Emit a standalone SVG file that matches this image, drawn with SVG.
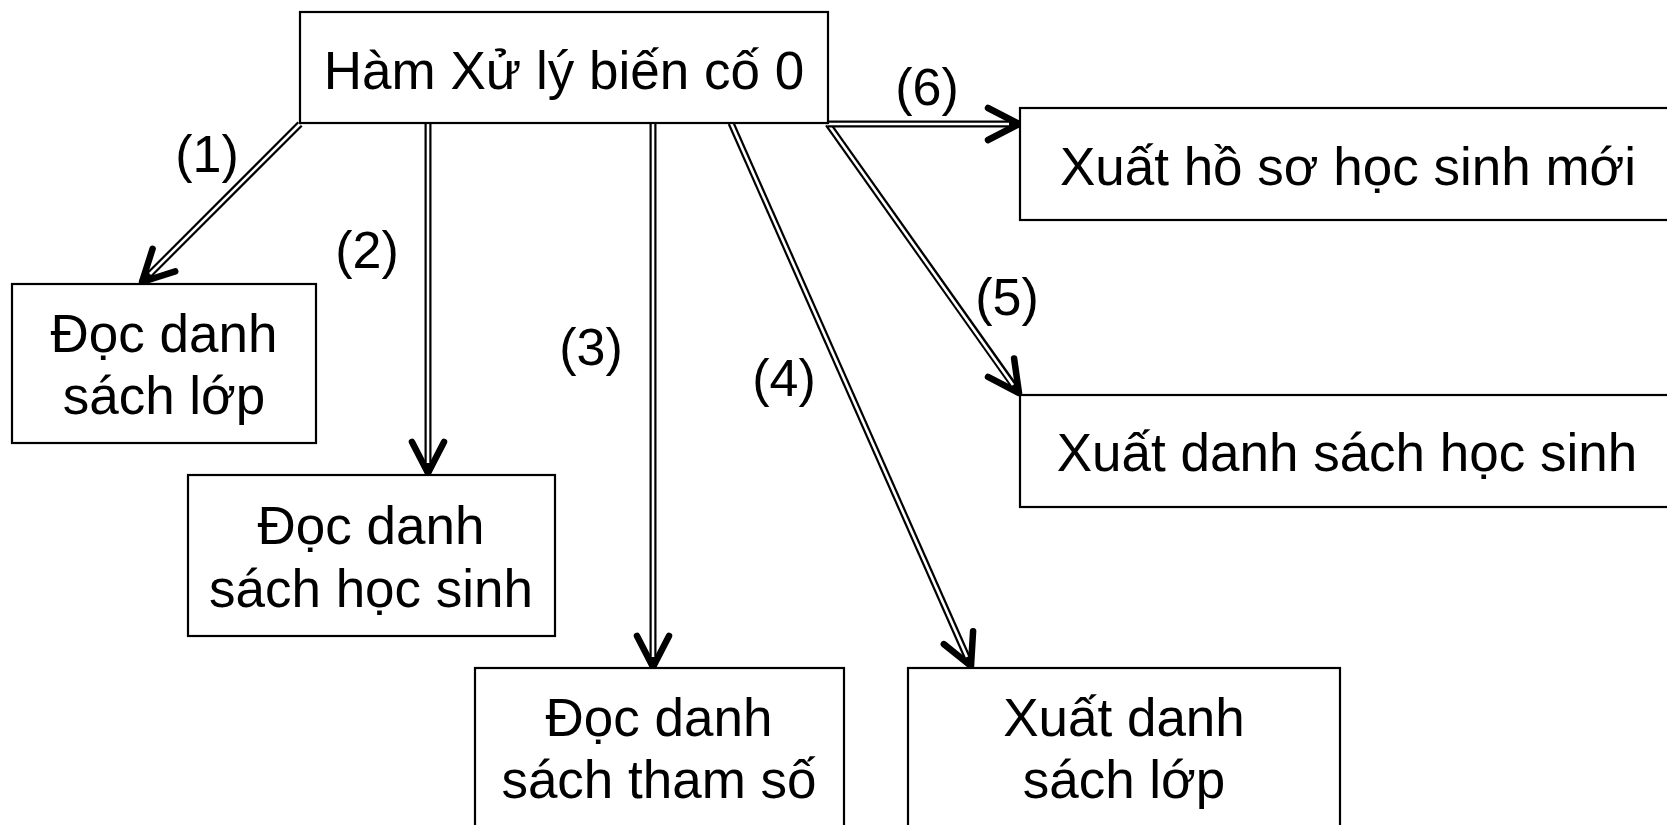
<svg xmlns="http://www.w3.org/2000/svg" width="1667" height="825" viewBox="0 0 1667 825">
  <style>
    .box { fill: #ffffff; stroke: #000000; stroke-width: 2.2; }
    .txt { font-family: "Liberation Sans", Arial, sans-serif; font-size: 53px; fill: #000000; text-anchor: middle; }
    .lbl { font-family: "Liberation Sans", Arial, sans-serif; font-size: 52px; fill: #000000; text-anchor: middle; }
    .outer { fill: none; stroke: #000000; stroke-width: 7; marker-end: url(#vhead); }
    .inner { fill: none; stroke: #ffffff; stroke-width: 2.6; }
  </style>
  <defs>
    <marker id="vhead" markerUnits="userSpaceOnUse" markerWidth="50" markerHeight="50" viewBox="-40 -25 50 50" refX="0" refY="0" orient="auto" overflow="visible">
      <path d="M-31,-16 L0,0 L-31,16" fill="none" stroke="#000000" stroke-width="6.5" stroke-linecap="round" stroke-linejoin="round"/>
    </marker>
  </defs>

  <rect width="1667" height="825" fill="#ffffff"/>

  <!-- connectors: double-line shafts with open V heads -->
  <g id="connectors">
    <!-- (1) -->
    <path class="outer" d="M300,124 L142,282"/>
    <path class="inner" d="M300,124 L150,274"/>
    <!-- (2) -->
    <path class="outer" d="M428,122 L428,473"/>
    <path class="inner" d="M428,122 L428,463"/>
    <!-- (3) -->
    <path class="outer" d="M653,122 L653,667"/>
    <path class="inner" d="M653,122 L653,657"/>
    <!-- (4) -->
    <path class="outer" d="M731,123 L971,666"/>
    <path class="inner" d="M731,123 L967,657"/>
    <!-- (5) -->
    <path class="outer" d="M828,124 L1019,393"/>
    <path class="inner" d="M828,124 L1013,385"/>
    <!-- (6) -->
    <path class="outer" d="M828,124 L1019,124"/>
    <path class="inner" d="M828,124 L1009,124"/>
  </g>

  <!-- connector labels -->
  <g id="labels">
    <text class="lbl" x="207" y="172">(1)</text>
    <text class="lbl" x="367" y="268">(2)</text>
    <text class="lbl" x="591" y="365">(3)</text>
    <text class="lbl" x="784" y="396">(4)</text>
    <text class="lbl" x="1007" y="315">(5)</text>
    <text class="lbl" x="927" y="105">(6)</text>
  </g>

  <g id="node-root">
    <rect class="box" x="300" y="12" width="528" height="111"/>
    <text class="txt" x="564" y="89">Hàm Xử lý biến cố 0</text>
  </g>

  <g id="node-doc-lop">
    <rect class="box" x="12" y="284" width="304" height="159"/>
    <text class="txt" x="164" y="352">Đọc danh</text>
    <text class="txt" x="164" y="414">sách lớp</text>
  </g>

  <g id="node-doc-hocsinh">
    <rect class="box" x="188" y="475" width="367" height="161"/>
    <text class="txt" x="371" y="544">Đọc danh</text>
    <text class="txt" x="371" y="607">sách học sinh</text>
  </g>

  <g id="node-doc-thamso">
    <rect class="box" x="475" y="668" width="369" height="170"/>
    <text class="txt" x="659" y="736">Đọc danh</text>
    <text class="txt" x="659" y="798">sách tham số</text>
  </g>

  <g id="node-xuat-lop">
    <rect class="box" x="908" y="668" width="432" height="170"/>
    <text class="txt" x="1124" y="736">Xuất danh</text>
    <text class="txt" x="1124" y="798">sách lớp</text>
  </g>

  <g id="node-xuat-dshs">
    <rect class="box" x="1020" y="395" width="660" height="112"/>
    <text class="txt" x="1347" y="471">Xuất danh sách học sinh</text>
  </g>

  <g id="node-xuat-hoso">
    <rect class="box" x="1020" y="108" width="660" height="112"/>
    <text class="txt" x="1348" y="185">Xuất hồ sơ học sinh mới</text>
  </g>
</svg>
